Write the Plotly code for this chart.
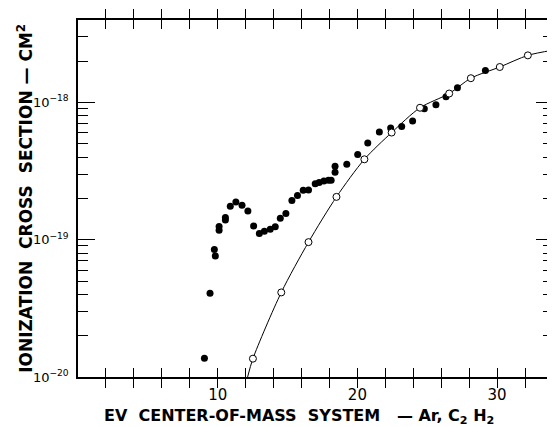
import plotly.graph_objects as go

# Filled circles (measured data)
filled_x = [9.05, 9.45, 9.76, 9.83, 10.1, 10.1, 10.55, 10.55, 10.9, 11.3, 11.74, 12.16, 12.57,
            12.98, 13.34, 13.76, 14.12, 14.48, 14.88, 15.31, 15.71, 16.12, 16.5, 16.98, 17.26,
            17.6, 17.93, 18.12, 18.4, 18.4, 19.24, 20.02, 20.74, 21.57, 22.38, 23.17, 23.95,
            24.79, 25.62, 26.34, 27.16, 29.16]
filled_y = [1.37e-20, 4.08e-20, 8.5e-20, 7.6e-20, 1.25e-19, 1.17e-19, 1.39e-19, 1.45e-19,
            1.75e-19, 1.88e-19, 1.78e-19, 1.62e-19, 1.26e-19, 1.11e-19, 1.15e-19, 1.19e-19,
            1.24e-19, 1.43e-19, 1.55e-19, 1.93e-19, 2.1e-19, 2.29e-19, 2.3e-19, 2.56e-19,
            2.61e-19, 2.68e-19, 2.71e-19, 2.71e-19, 3.43e-19, 3.1e-19, 3.54e-19, 4.17e-19,
            5.06e-19, 6.08e-19, 6.5e-19, 6.66e-19, 7.31e-19, 9.0e-19, 9.6e-19, 1.1e-18,
            1.28e-18, 1.71e-18]

# Open circles
open_x = [12.52, 14.55, 16.5, 18.5, 20.5, 22.45, 24.48, 26.57, 28.12, 30.19, 32.2]
open_y = [1.36e-20, 4.13e-20, 9.6e-20, 2.05e-19, 3.85e-19, 6.03e-19, 9.14e-19, 1.16e-18,
          1.5e-18, 1.81e-18, 2.2e-18]

# Smooth curve through open circles
curve_x = [12.14] + open_x + [34.0]
curve_y = [1.0e-20] + open_y + [2.4e-18]

y_major_vals = [1e-20, 1e-19, 1e-18]
y_major_text = ["10<sup>−20</sup>", "10<sup>−19</sup>", "10<sup>−18</sup>"]
y_tick_vals = [m * 10.0 ** e for e in (-20, -19, -18) for m in range(1, 10) if m * 10.0 ** e < 4e-18]
y_tick_text = [y_major_text[y_major_vals.index(v)] if v in y_major_vals else "" for v in y_tick_vals]
x_tick_vals = list(range(2, 34, 2))
x_tick_text = [str(v) if v % 10 == 0 else "" for v in x_tick_vals]

FONT = "DejaVu Sans"

fig = go.Figure()
fig.add_trace(go.Scatter(x=curve_x, y=curve_y, mode="lines",
                         line=dict(color="black", width=1, shape="spline", smoothing=0.8),
                         hoverinfo="skip", showlegend=False))
fig.add_trace(go.Scatter(x=filled_x, y=filled_y, mode="markers",
                         marker=dict(symbol="circle", size=7, color="black"),
                         showlegend=False))
fig.add_trace(go.Scatter(x=open_x, y=open_y, mode="markers",
                         marker=dict(symbol="circle", size=7, color="white",
                                     line=dict(color="black", width=1)),
                         showlegend=False))
# invisible trace that anchors the overlay axis carrying the long decade ticks
fig.add_trace(go.Scatter(x=open_x, y=open_y, yaxis="y2", mode="markers",
                         marker=dict(opacity=0), hoverinfo="skip", showlegend=False))

fig.update_layout(
    width=547, height=419,
    margin=dict(l=70, r=0, t=12, b=50),
    paper_bgcolor="white", plot_bgcolor="white",
    font=dict(family=FONT, color="black", size=14),
    xaxis=dict(range=[0, 34], tickmode="array", tickvals=x_tick_vals, ticktext=x_tick_text,
               ticks="inside", ticklen=9, tickwidth=1, tickcolor="black",
               showline=True, linecolor="black", linewidth=1.5, mirror="allticks",
               showgrid=False, zeroline=False,
               tickfont=dict(family=FONT, size=15, color="black"), ticklabelstandoff=3),
    yaxis=dict(type="log", range=[-20, -17.4], tickmode="array",
               tickvals=y_tick_vals, ticktext=y_tick_text,
               ticks="inside", ticklen=10, tickwidth=1, tickcolor="black",
               showline=True, linecolor="black", linewidth=1.5, mirror="allticks",
               showgrid=False, zeroline=False,
               tickfont=dict(family=FONT, size=13), ticklabelstandoff=5),
    yaxis2=dict(type="log", range=[-20, -17.4], overlaying="y", side="left", anchor="x",
                tickmode="array", tickvals=y_major_vals, showticklabels=False,
                ticks="inside", ticklen=17, tickwidth=1, tickcolor="black",
                showline=False, mirror="allticks", showgrid=False, zeroline=False),
    annotations=[
        dict(text="IONIZATION  CROSS  SECTION — CM<sup>2</sup>", textangle=-90,
             xref="paper", yref="paper", x=-0.113, y=0.5, xanchor="center", yanchor="middle",
             showarrow=False, font=dict(family=FONT, size=17, weight="bold")),
        dict(text="EV  CENTER-OF-MASS  SYSTEM   — Ar, C<sub>2</sub> H<sub>2</sub>",
             xref="paper", yref="paper", x=0.465, y=-0.112, xanchor="center", yanchor="middle",
             showarrow=False, font=dict(family=FONT, size=16, weight="bold")),
    ],
)

fig.write_html("out.html")
